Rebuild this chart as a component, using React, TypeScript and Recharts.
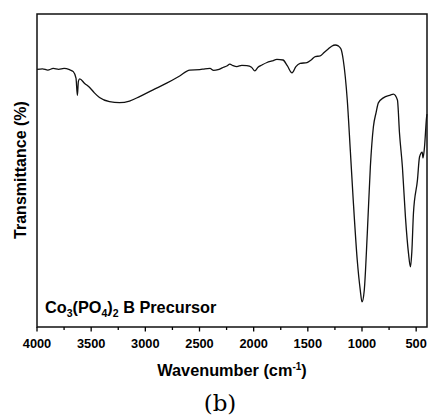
import { Line, LineChart, ReferenceArea, XAxis, YAxis } from "recharts";

// wavenumber (cm-1), high to low as it runs across the plot
const wavenumbers = [
  4000, 3950, 3900, 3850, 3800, 3750, 3700, 3665, 3640, 3627, 3618, 3606,
  3560, 3516, 3470, 3423, 3331, 3238, 3146, 3053, 2933, 2803, 2683, 2590,
  2497, 2450, 2403, 2370, 2329, 2290, 2248, 2220, 2190, 2155, 2110, 2063,
  2020, 1989, 1960, 1924, 1877, 1830, 1785, 1729, 1690, 1646, 1610, 1571,
  1508, 1470, 1432, 1386, 1350, 1312, 1280, 1247, 1219, 1194, 1173, 1136,
  1108, 1081, 1044, 1016, 1000, 979, 951, 923, 895, 870, 849, 803, 738,
  710, 673, 654, 627, 599, 571, 553, 540, 525, 488, 469, 444, 437, 423,
  404, 400,
];

// transmittance, arbitrary 0-100 scale
const transmittance = [
  82.3, 82.5, 82.1, 82.6, 82.3, 82.6, 82.2, 81.6, 79.5, 74.0, 78.5, 79.3,
  77.8, 76.6, 74.8, 73.3, 72.0, 71.7, 72.2, 73.6, 75.7, 77.9, 80.2, 82.1,
  82.2, 82.5, 82.6, 82.0, 82.2, 82.8, 83.4, 84.0, 83.5, 83.2, 83.6, 83.5,
  83.0, 81.8, 83.0, 83.7, 84.5, 85.0, 85.5, 85.3, 83.5, 81.2, 83.2, 84.2,
  84.5, 85.3, 86.4, 86.6, 87.7, 88.8, 89.7, 90.1, 89.8, 88.8, 85.3, 72.5,
  56.5, 40.6, 21.4, 11.8, 8.0, 11.8, 30.0, 51.1, 63.9, 68.5, 71.6, 73.2,
  74.1, 74.4, 72.5, 62.0, 51.1, 35.1, 23.6, 19.2, 24.0, 36.4, 47.0, 54.3,
  55.9, 54.0, 57.5, 67.0, 68.0,
];

const xTicks = [
  4000, 3750, 3500, 3250, 3000, 2750, 2500, 2250, 2000, 1750, 1500, 1250,
  1000, 750, 500,
];

const data = wavenumbers.map((wn, i) => ({ wn, t: transmittance[i] }));

const FONT = "'Liberation Sans', Arial, sans-serif";

function XTick({ x, y, payload }: any) {
  const major = payload.value % 500 === 0;
  return (
    <g>
      <line
        x1={x}
        x2={x}
        y1={y}
        y2={y + (major ? 4.5 : 3)}
        stroke="#000"
        strokeWidth={1.3}
      />
      {major && (
        <text
          x={x}
          y={y + 21}
          textAnchor="middle"
          fontFamily={FONT}
          fontWeight="bold"
          fontSize={12.8}
          fill="#000"
        >
          {payload.value}
        </text>
      )}
    </g>
  );
}

export default function App() {
  return (
    <div style={{ position: "absolute", left: 0, top: 0, background: "#fff" }}>
      <LineChart
        width={428}
        height={417}
        data={data}
        margin={{ top: 14, right: 1, left: 37, bottom: 60 }}
      >
        <XAxis
          dataKey="wn"
          type="number"
          domain={[400, 4000]}
          reversed
          ticks={xTicks}
          interval={0}
          axisLine={false}
          tickLine={false}
          tickSize={0}
          tickMargin={0}
          height={30}
          tick={<XTick />}
        />
        <YAxis type="number" domain={[0, 100]} hide />
        <ReferenceArea
          x1={4000}
          x2={400}
          y1={0}
          y2={100}
          fill="none"
          stroke="#111"
          strokeWidth={1.5}
          ifOverflow="visible"
        />
        <Line
          dataKey="t"
          type="monotone"
          stroke="#111"
          strokeWidth={1.3}
          dot={false}
          isAnimationActive={false}
        />
        <text
          x={26}
          y={170}
          transform="rotate(-90, 26, 170)"
          textAnchor="middle"
          fontFamily={FONT}
          fontWeight="bold"
          fontSize={16}
          fill="#000"
        >
          Transmittance (%)
        </text>
        <text
          x={232}
          y={376}
          textAnchor="middle"
          fontFamily={FONT}
          fontWeight="bold"
          fontSize={16.3}
          fill="#000"
        >
          Wavenumber (cm
          <tspan fontSize={10} dy={-6}>
            -1
          </tspan>
          <tspan dy={6}>)</tspan>
        </text>
        <text
          x={45}
          y={313}
          fontFamily={FONT}
          fontWeight="bold"
          fontSize={16.3}
          fill="#000"
        >
          Co
          <tspan fontSize={10.5} dy={4}>
            3
          </tspan>
          <tspan dy={-4}>(PO</tspan>
          <tspan fontSize={10.5} dy={4}>
            4
          </tspan>
          <tspan dy={-4}>)</tspan>
          <tspan fontSize={10.5} dy={4}>
            2
          </tspan>
          <tspan dy={-4}> B Precursor</tspan>
        </text>
        <text
          x={220}
          y={411}
          textAnchor="middle"
          fontFamily="'DejaVu Serif', serif"
          fontSize={23}
          fill="#000"
        >
          (b)
        </text>
      </LineChart>
    </div>
  );
}
